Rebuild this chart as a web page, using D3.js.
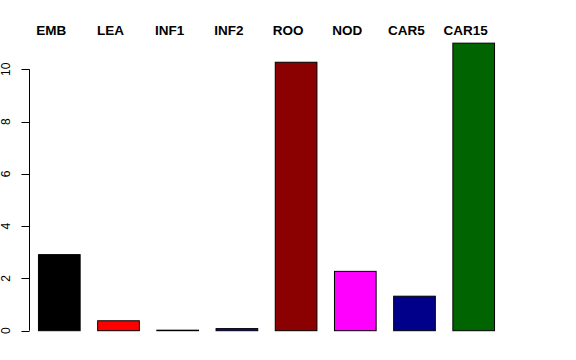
<!DOCTYPE html>
<html>
<head>
    <meta charset="utf-8">
    <style>
        body { margin: 0; background: #fff; }
        svg { display: block; font-family: "Liberation Sans", Arial, sans-serif; }
        .bar_label { font-size: 13.5px; font-weight: bold; }
        .y.axis text { font-size: 12px; }
    </style>
</head>
<body>
    <svg class="chart" width="576" height="360"></svg>

<script src="https://d3js.org/d3.v7.min.js"></script>
<script>
    // values
    const categories = ["EMB", "LEA", "INF1", "INF2", "ROO", "NOD", "CAR5", "CAR15"];
    const values = [2.91, 0.38, 0.02, 0.08, 10.27, 2.27, 1.32, 11.0];
    const colors = ["#000000", "#ff0000", "#000000", "#0000ff", "#8b0000", "#ff00ff", "#00008b", "#006400"];
    const yTicks = [0, 2, 4, 6, 8, 10];

    const width = 576;
    const height = 360;

    let svg = d3.select(".chart");

    let x = d3.scaleBand()
        .domain(categories)
        .range([29.7, 503.3])
        .paddingInner(0.296)
        .paddingOuter(0.148);

    let y = d3.scaleLinear()
        .domain([0, 10])
        .range([330.7, 69.3]);

    // bars
    svg.append("g")
        .selectAll("rect")
        .data(categories)
        .join("rect")
        .attr("x", d => x(d))
        .attr("width", x.bandwidth())
        .attr("y", (d, i) => y(values[i]))
        .attr("height", (d, i) => y(0) - y(values[i]))
        .attr("fill", (d, i) => colors[i])
        .attr("stroke", "#000")
        .attr("stroke-width", 1);

    // labels on top (sit a bit left of the bar centres, as in the original)
    svg.append("g")
        .selectAll("text")
        .data(categories)
        .join("text")
        .attr("class", "bar_label")
        .attr("x", d => x(d) + x.bandwidth() / 2 - 8)
        .attr("y", 35)
        .attr("text-anchor", "middle")
        .text(d => d);

    // y axis, R style
    let yAxis = svg.append("g")
        .attr("class", "y axis")
        .attr("transform", "translate(29.5,0)");

    yAxis.append("line")
        .attr("y1", y(0))
        .attr("y2", y(10))
        .attr("stroke", "#000");

    yAxis.selectAll(".tick")
        .data(yTicks)
        .join("line")
        .attr("x1", -8)
        .attr("x2", 0)
        .attr("y1", d => Math.round(y(d)) + 0.5)
        .attr("y2", d => Math.round(y(d)) + 0.5)
        .attr("stroke", "#000");

    yAxis.selectAll("text")
        .data(yTicks)
        .join("text")
        .attr("text-anchor", "middle")
        .attr("transform", d => `translate(-19.5, ${y(d)}) rotate(-90)`)
        .text(d => d);
</script>
</body>
</html>
